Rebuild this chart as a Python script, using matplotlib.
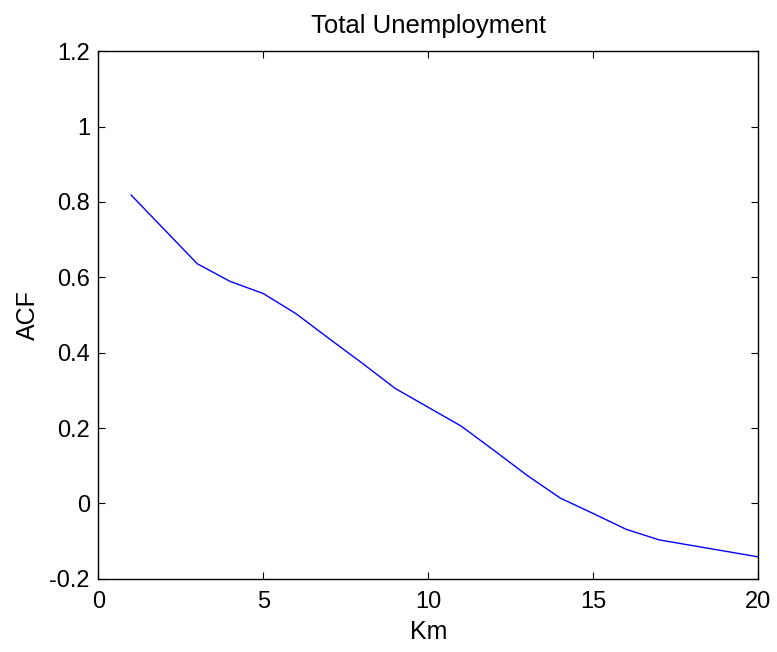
import matplotlib
matplotlib.use("Agg")
import matplotlib.pyplot as plt

# ACF of total unemployment by distance (km)
km = list(range(1, 21))
acf = [0.818, 0.727, 0.636, 0.589, 0.557, 0.503, 0.437, 0.372, 0.305, 0.255,
       0.205, 0.140, 0.074, 0.014, -0.027, -0.069, -0.097, -0.112, -0.127, -0.142]

x_ticks = [0, 5, 10, 15, 20]
y_ticks = [-0.2, 0, 0.2, 0.4, 0.6, 0.8, 1, 1.2]
y_tick_labels = ["-0.2", "0", "0.2", "0.4", "0.6", "0.8", "1", "1.2"]

plt.rcParams["font.family"] = ["Liberation Sans", "DejaVu Sans"]

fig = plt.figure(figsize=(7.77, 6.52), dpi=100)
ax = fig.add_axes([0.1265, 0.1124, 0.8494, 0.8089])
ax.plot(km, acf, color="#0000ff", linewidth=1.0)

ax.set_xlim(0, 20)
ax.set_ylim(-0.2, 1.2)
ax.set_xticks(x_ticks)
ax.set_yticks(y_ticks)
ax.set_yticklabels(y_tick_labels)
ax.tick_params(direction="in", length=4.8, width=0.8, labelsize=17, top=True, right=True)
ax.tick_params(axis="x", pad=9)
ax.tick_params(axis="y", pad=6)
for s in ax.spines.values():
    s.set_linewidth(1.0)

ax.set_xlabel("Km", fontsize=18, labelpad=5)
ax.set_ylabel("ACF", fontsize=18, labelpad=6.5)
ax.set_title("Total Unemployment", fontsize=18.5, pad=13)

fig.savefig("out.png", dpi=100)
